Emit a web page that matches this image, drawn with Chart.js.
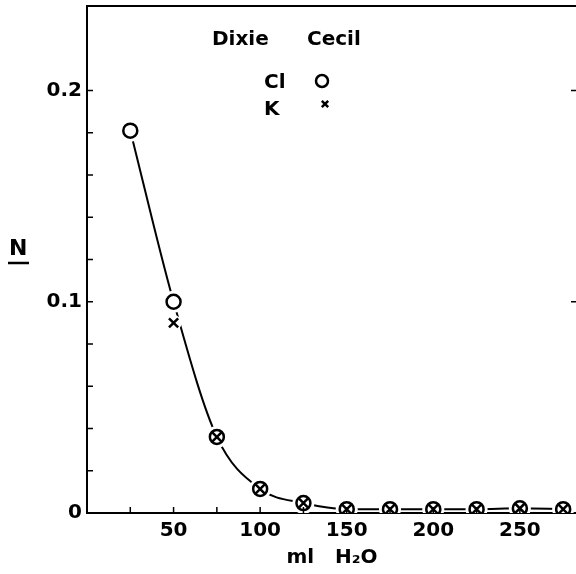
<!DOCTYPE html>
<html>
<head>
<meta charset="utf-8">
<script src="https://cdn.jsdelivr.net/npm/chart.js@4.4.1/dist/chart.umd.min.js"></script>
<style>
  html, body { margin: 0; padding: 0; background: #fff; overflow: hidden; }
</style>
</head>
<body>
<canvas id="chart" width="580" height="574"></canvas>
<script>
// water volume (ml) and concentration N
const volumes = [25, 50, 75, 100, 125, 150, 175, 200, 225, 250, 275];
const chloride = [0.181, 0.100, 0.036, 0.0114, 0.0047, 0.0018, 0.0018, 0.0018, 0.0018, 0.0022, 0.0018];
const potassiumX = [50, 75, 100, 125, 150, 175, 200, 225, 250, 275];
const potassium = [0.090, 0.036, 0.0114, 0.0047, 0.0018, 0.0018, 0.0018, 0.0018, 0.0022, 0.0018];
const yLabels = [0, 0.1, 0.2];
const xLabels = [50, 100, 150, 200, 250];
const rightTicks = [0.1, 0.2];

const FONT = '"DejaVu Sans", sans-serif';
const pts = (xs, ys) => xs.map((x, i) => ({ x: x, y: ys[i] }));

// axis frame, inward ticks, N label and key
const decor = {
    id: 'decor',
    afterDraw(chart) {
        const { ctx, chartArea: a, scales: { x, y } } = chart;
        ctx.save();
        ctx.strokeStyle = '#000';
        ctx.lineWidth = 2;
        ctx.beginPath();
        ctx.moveTo(a.left - 1, a.top);
        ctx.lineTo(a.right, a.top);
        ctx.stroke();

        ctx.lineWidth = 1.5;
        x.ticks.forEach(t => {
            if (t.value <= 0 || t.value % 25 !== 0) return;
            const px = x.getPixelForValue(t.value);
            ctx.beginPath(); ctx.moveTo(px, a.bottom); ctx.lineTo(px, a.bottom - 6); ctx.stroke();
        });
        y.ticks.forEach(t => {
            if (t.value <= 0 || t.value > 0.21) return;
            const py = y.getPixelForValue(t.value);
            ctx.beginPath(); ctx.moveTo(a.left, py); ctx.lineTo(a.left + 6, py); ctx.stroke();
        });
        rightTicks.forEach(v => {
            const py = y.getPixelForValue(v);
            ctx.beginPath(); ctx.moveTo(a.right, py); ctx.lineTo(a.right - 6, py); ctx.stroke();
        });

        ctx.fillStyle = '#000';
        ctx.textBaseline = 'middle';
        ctx.textAlign = 'left';
        ctx.font = 'bold 22px ' + FONT;
        ctx.fillText('N', 9, 249);
        ctx.lineWidth = 2.5;
        ctx.beginPath(); ctx.moveTo(8, 263); ctx.lineTo(29, 263); ctx.stroke();

        ctx.font = 'bold 20px ' + FONT;
        ctx.fillText('Dixie', 212, 40);
        ctx.fillText('Cecil', 307, 40);
        ctx.fillText('Cl', 264, 83);
        ctx.fillText('K', 264, 110);
        ctx.fillStyle = '#fff';
        ctx.lineWidth = 2.5;
        Chart.helpers.drawPoint(ctx, { pointStyle: 'circle', radius: 6, borderWidth: 2.5 }, 322, 81);
        Chart.helpers.drawPoint(ctx, { pointStyle: 'crossRot', radius: 4.5, borderWidth: 2.5 }, 325, 104);
        ctx.restore();
    }
};

new Chart(document.getElementById('chart'), {
    type: 'scatter',
    data: {
        datasets: [
            { data: pts(volumes, chloride), showLine: true, cubicInterpolationMode: 'monotone',
              borderColor: '#000', borderWidth: 2, pointRadius: 0, order: 4 },
            { data: pts(volumes, chloride), pointRadius: 11, pointBorderWidth: 0,
              pointBackgroundColor: '#fff', clip: 0, order: 3 },
            { data: pts(potassiumX, potassium), pointRadius: 8, pointBorderWidth: 0,
              pointBackgroundColor: '#fff', clip: 0, order: 2 },
            { data: pts(volumes, chloride), pointStyle: 'circle', pointRadius: 7, pointBorderWidth: 2.5,
              pointBorderColor: '#000', pointBackgroundColor: 'rgba(0,0,0,0)', clip: 0, order: 1 },
            { data: pts(potassiumX, potassium), pointStyle: 'crossRot', pointRadius: 6.5, pointBorderWidth: 2.5,
              pointBorderColor: '#000', clip: 0, order: 0 }
        ]
    },
    options: {
        responsive: false,
        animation: false,
        layout: { autoPadding: false, padding: { top: 6, right: 3, left: 0, bottom: 0 } },
        plugins: { legend: { display: false }, tooltip: { enabled: false } },
        scales: {
            x: {
                type: 'linear', min: 0, max: 283, z: 1,
                afterFit: s => { s.height = 61; s.paddingLeft = 0; s.paddingRight = 0; },
                grid: { display: false, drawTicks: false },
                border: { display: true, color: '#000', width: 2 },
                ticks: {
                    stepSize: 25, autoSkip: false, maxRotation: 0, padding: 6, color: '#000',
                    font: { family: FONT, size: 20, weight: 'bold' },
                    callback: v => xLabels.includes(v) ? String(v) : ''
                },
                title: { display: true, text: 'ml   H\u2082O', color: '#000',
                         font: { family: FONT, size: 20, weight: 'bold' }, padding: { top: 0, bottom: 4 } }
            },
            y: {
                min: 0, max: 0.24, z: 1,
                afterFit: s => { s.width = 87; s.paddingTop = 0; s.paddingBottom = 0; },
                grid: { display: false, drawTicks: false },
                border: { display: true, color: '#000', width: 2 },
                ticks: {
                    stepSize: 0.02, autoSkip: false, padding: 5, color: '#000',
                    font: { family: FONT, size: 20, weight: 'bold' },
                    callback: v => {
                        const hit = yLabels.find(l => Math.abs(l - v) < 1e-6);
                        return hit === undefined ? '' : String(hit);
                    }
                }
            }
        }
    },
    plugins: [decor]
});
</script>
</body>
</html>
